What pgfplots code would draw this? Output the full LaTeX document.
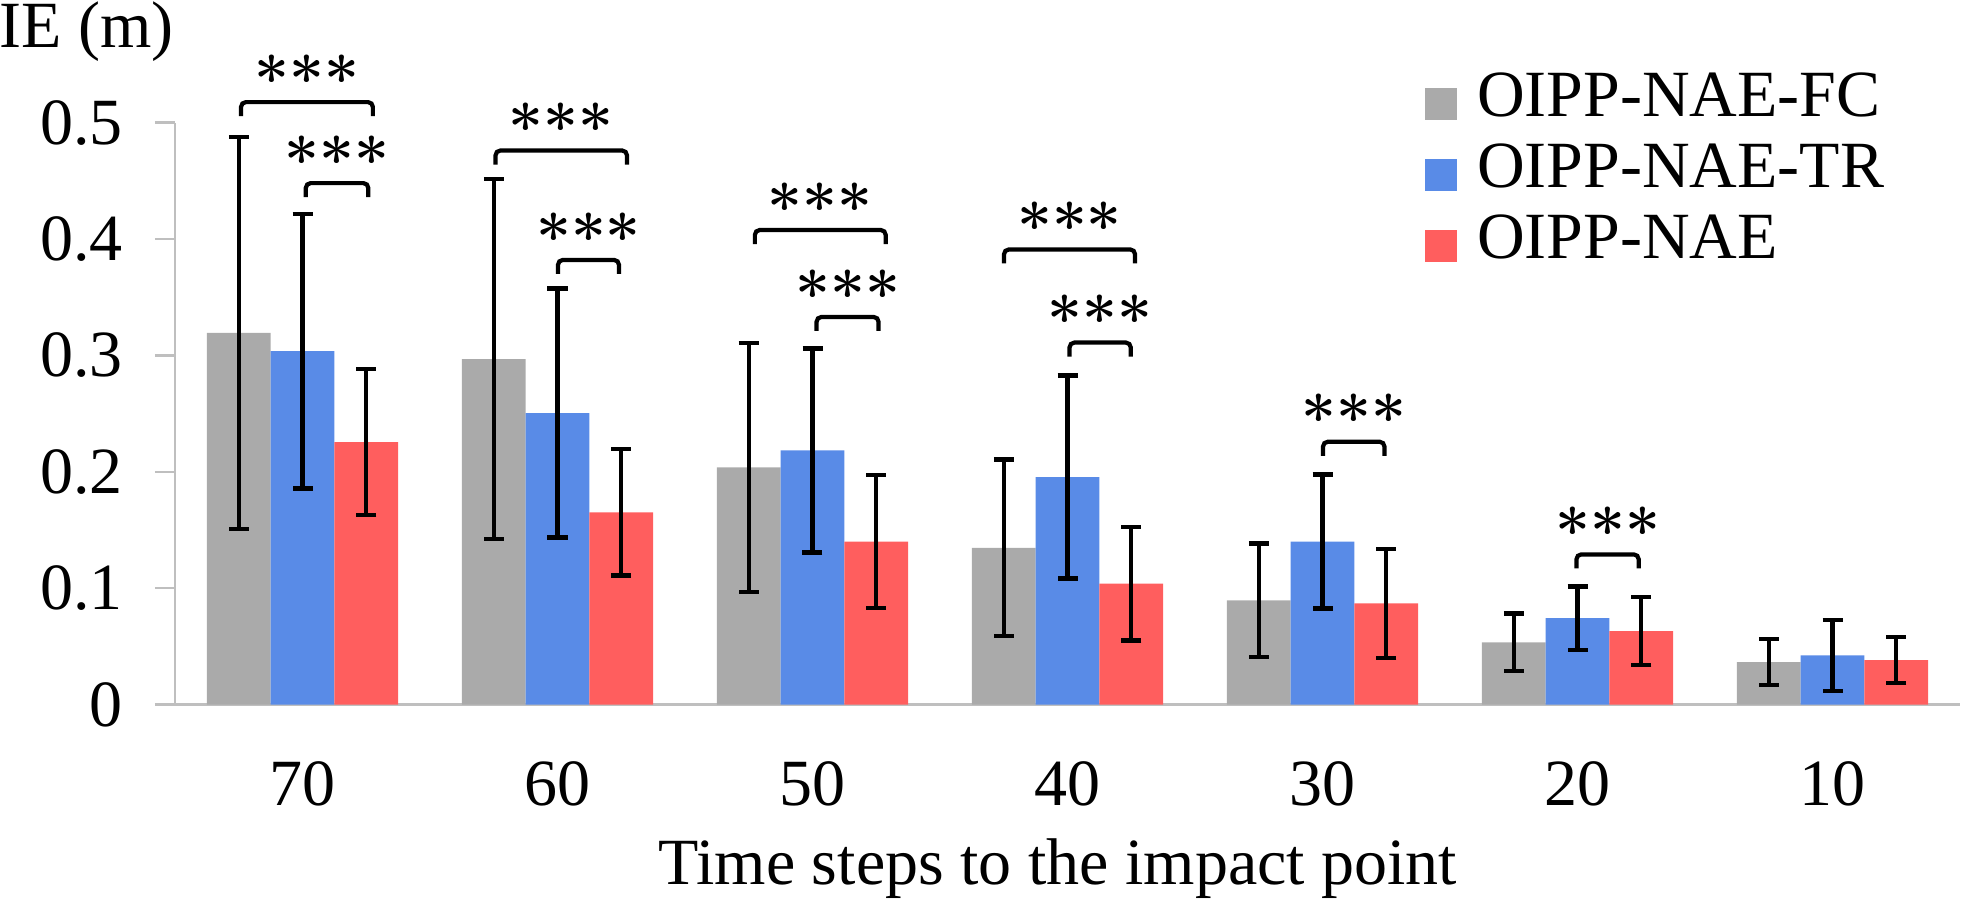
\documentclass[border=0pt]{standalone}
\usepackage{fontspec}
\setmainfont{Liberation Serif}
\newfontfamily\starfont{Latin Modern Roman}
\usepackage{pgfplots}
\usepackage{pgfplotstable}
\pgfplotsset{compat=1.18}

\definecolor{fcgray}{RGB}{170,170,170}
\definecolor{trblue}{RGB}{89,139,231}
\definecolor{naered}{RGB}{255,94,94}
\definecolor{axisgray}{RGB}{191,191,191}

\newcommand\cf{\fontsize{16.5pt}{19.8pt}\selectfont}

% mean IE and standard deviation per horizon (index 0..6 = 70..10 steps)
\pgfplotstableread{
x  y      e
0  0.3194 0.1684
1  0.2968 0.1547
2  0.2037 0.1069
3  0.1347 0.0760
4  0.0895 0.0488
5  0.0534 0.0247
6  0.0365 0.0197
}\fcdata
\pgfplotstableread{
x  y      e
0  0.3037 0.1180
1  0.2504 0.1070
2  0.2183 0.0875
3  0.1954 0.0872
4  0.1400 0.0576
5  0.0743 0.0272
6  0.0422 0.0304
}\trdata
\pgfplotstableread{
x  y      e
0  0.2255 0.0627
1  0.1652 0.0543
2  0.1401 0.0570
3  0.1039 0.0488
4  0.0869 0.0467
5  0.0631 0.0292
6  0.0382 0.0199
}\naedata

% significance bracket: left x, right x, height, centre x
\newcommand\sig[4]{%
  \draw[black, line width=1.05pt, rounded corners=1.2pt]
    ([yshift=-3.5pt]axis cs:#1,#3) -- (axis cs:#1,#3) -- (axis cs:#2,#3) -- ([yshift=-3.5pt]axis cs:#2,#3);
  \node[anchor=base, inner sep=0pt, font=\starfont\bfseries\fontsize{15.5pt}{18pt}\selectfont] at (axis cs:#4,#3) [yshift=0.2pt] {***};
}

\begin{document}
\begin{tikzpicture}
\begin{axis}[
  scale only axis, width=446.25pt, height=145.5pt,
  xmin=-0.5, xmax=6.5, ymin=0, ymax=0.5,
  ybar=0pt, bar width=0.25,
  axis x line*=bottom, axis y line*=left,
  axis line style={axisgray, line width=0.6pt},
  tick align=outside,
  major tick length=5pt, minor tick length=5pt,
  xtick={0,...,6}, xticklabels={70,60,50,40,30,20,10},
  xtick style={draw=none},
  minor xtick={-0.5,0.5,...,6.5},
  minor x tick style={axisgray, line width=0.6pt},
  ytick={0,0.1,0.2,0.3,0.4,0.5},
  ytick style={axisgray, line width=0.6pt},
  yticklabel style={/pgf/number format/fixed, /pgf/number format/precision=1, xshift=-4.5pt},
  /pgf/number format/assume math mode=true,
  tick label style={font=\cf},
  xticklabel style={anchor=base, yshift=-20.2pt},
  clip=false,
  legend cell align=left,
  legend image code/.code={\fill[#1, draw=none] (0pt,-4pt) rectangle (8pt,4pt);},
  legend style={at={(rel axis cs:0.70,1)}, anchor=north west, yshift=13.65pt,
    draw=none, fill=none, inner sep=0pt, column sep=5pt, font=\cf,
    nodes={inner sep=0pt, text height=12pt, text depth=5.75pt}},
  error bars/y dir=both, error bars/y explicit,
  error bars/error mark=-,
  error bars/error bar style={black, line width=1.1pt},
  error bars/error mark options={rotate=90, draw=black, line width=1.1pt, mark size=2.5pt},
]
\addplot[fill=fcgray, draw=none] table[x=x, y=y, y error=e] {\fcdata};
\addplot[fill=trblue, draw=none] table[x=x, y=y, y error=e] {\trdata};
\addplot[fill=naered, draw=none] table[x=x, y=y, y error=e] {\naedata};
\legend{OIPP-NAE-FC, OIPP-NAE-TR, OIPP-NAE}

\sig{-0.241}{0.276}{0.5176}{0.0175}
\sig{0.013}{0.258}{0.448}{0.1355}
\sig{0.757}{1.2725}{0.476}{1.015}
\sig{1.002}{1.241}{0.382}{1.1215}
\sig{1.774}{2.287}{0.4077}{2.0305}
\sig{2.016}{2.259}{0.333}{2.1375}
\sig{2.751}{3.265}{0.391}{3.008}
\sig{3.008}{3.248}{0.311}{3.128}
\sig{4.002}{4.243}{0.2258}{4.1225}
\sig{4.996}{5.240}{0.129}{5.118}

\coordinate (bl) at (rel axis cs:0,0);
\coordinate (tr) at (rel axis cs:1,1);
\coordinate (tl) at (rel axis cs:0,1);
\coordinate (bc) at (rel axis cs:0.5,0);
\end{axis}
\node[anchor=base west, inner sep=0pt, font=\cf] at ([shift={(-44pt,18.65pt)}]tl) {IE (m)};
\node[anchor=base, inner sep=0pt, font=\cf] at ([shift={(-2.4pt,-45.1pt)}]bc) {Time steps to the impact point};
\pgfresetboundingbox
\path[use as bounding box] ([shift={(-43.75pt,-50.875pt)}]bl) rectangle ([shift={(0.5pt,30.65pt)}]tr);
\end{tikzpicture}
\end{document}
